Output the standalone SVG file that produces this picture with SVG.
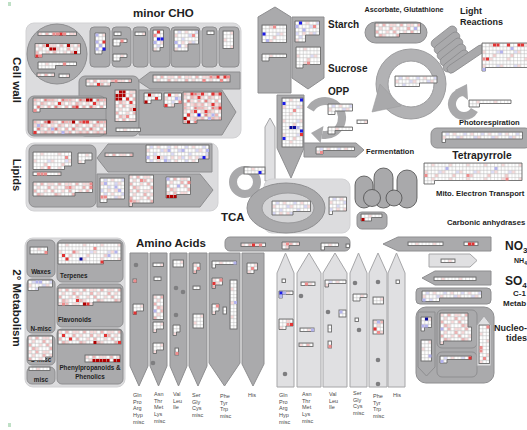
<svg xmlns="http://www.w3.org/2000/svg" width="527" height="430" viewBox="0 0 527 430">
<style>
text{font-family:"Liberation Sans",Arial,sans-serif;fill:#1e1e1e;font-weight:bold}
.aa{font-size:5.5px;fill:#4a4a4a;font-weight:normal}
.pl{fill:#dcdcde;stroke:#d2d2d4;stroke-width:1}
.dk{fill:#aaaaac;stroke:#8e8e90;stroke-width:1}
.lt{fill:#e0e0e2;stroke:#a6a6a8;stroke-width:1}
.cap{fill:#a9a9ab;stroke:#4c4c4c;stroke-width:.8}
.g{stroke:#6c6c6c;stroke-width:.9}
.dot{fill:#7e7e80}
.arc{fill:none;stroke:#a9a9ab;stroke-width:8}
.ah{fill:#a9a9ab}
.D{fill:#b00000}.R{fill:#e23434}.M{fill:#ee8c8c}.B{fill:#1c1ce8}.N{fill:#0a0a9a}.L{fill:#b4b4ee}
</style>
<defs>
<rect id="k" width="3" height="3"/>
<path id="gl" d="M.25 0V14M3.75 0V14M7.25 0V14M10.75 0V14M14.25 0V14M0 .25H17.5M0 3.75H17.5M0 7.25H17.5M0 10.75H17.5" stroke="#b4b4b4" stroke-width=".5" fill="none"/>
<pattern id="pw" width="17.5" height="14" patternUnits="userSpaceOnUse">
<rect width="17.5" height="14" fill="#fff"/>
<g fill="#f8d8d8"><use href="#k" x="7.5" y=".5"/><use href="#k" x=".5" y="7.5"/></g>
<use href="#k" x="14.5" y="7.5" fill="#dcdcf6"/><use href="#k" x="11" y="11" fill="#f4cccc"/>
<use href="#gl"/>
</pattern>
<pattern id="pp" width="17.5" height="14" patternUnits="userSpaceOnUse">
<rect width="17.5" height="14" fill="#fff"/>
<g fill="#f8d8d8"><use href="#k" x=".5" y=".5"/><use href="#k" x="14.5" y=".5"/><use href="#k" x="4" y="4"/><use href="#k" x="11" y="7.5"/><use href="#k" x="7.5" y="11"/></g>
<g fill="#f0b4b4"><use href="#k" x="7.5" y=".5"/><use href="#k" x="14.5" y="4"/><use href="#k" x=".5" y="7.5"/><use href="#k" x="4" y="11"/></g>
<use href="#gl"/>
</pattern>
<pattern id="pr" width="17.5" height="14" patternUnits="userSpaceOnUse">
<rect width="17.5" height="14" fill="#fff"/>
<g fill="#f8d8d8"><use href="#k" x="4" y=".5"/><use href="#k" x=".5" y="4"/><use href="#k" x="11" y="4"/><use href="#k" x="7.5" y="7.5"/><use href="#k" x="7.5" y="11"/><use href="#k" x="14.5" y="11"/></g>
<g fill="#f0b4b4"><use href="#k" x=".5" y=".5"/><use href="#k" x="14.5" y=".5"/><use href="#k" x="7.5" y="4"/><use href="#k" x="14.5" y="7.5"/><use href="#k" x=".5" y="11"/><use href="#k" x="11" y="11"/></g>
<g fill="#e87a7a"><use href="#k" x="11" y=".5"/><use href="#k" x="4" y="7.5"/></g>
<use href="#gl"/>
</pattern>
<pattern id="pb" width="17.5" height="14" patternUnits="userSpaceOnUse">
<rect width="17.5" height="14" fill="#fff"/>
<g fill="#d8d8f6"><use href="#k" x="4" y=".5"/><use href="#k" x="14.5" y="4"/><use href="#k" x="7.5" y="7.5"/><use href="#k" x=".5" y="11"/></g>
<g fill="#f8d8d8"><use href="#k" x="11" y=".5"/><use href="#k" x=".5" y="4"/><use href="#k" x="7.5" y="11"/><use href="#k" x="14.5" y="11"/></g>
<use href="#gl"/>
</pattern>
</defs>

<rect x="8" y="2" width="3" height="4" fill="#bfe0c6"/>
<rect x="8" y="423" width="3" height="4" fill="#bfe0c6"/>

<g id="cell-wall">
<rect class="pl" x="26" y="23" width="215" height="115" rx="8"/>
<circle class="dk" cx="57" cy="54" r="30"/>
<rect class="dk" x="79" y="76" width="60" height="60" rx="6"/>
<rect class="dk" x="28" y="96" width="78" height="40" rx="6"/>
<polygon class="dk" points="138,81 150,72 240,72 240,89 150,89"/>
<polygon class="dk" points="139,90 222,90 236,112 222,135 139,135"/>
<text transform="translate(13 80) rotate(90)" text-anchor="middle" font-size="11.5">Cell wall</text>
<g transform="translate(38 32)"><rect class="g" fill="url(#pp)" width="38.5" height="3.5"/><use href="#k" class="M" x="14.5" y=".5"/><use href="#k" class="M" x="18" y=".5"/><use href="#k" class="R" x="21.5" y=".5"/><use href="#k" class="M" x="25" y=".5"/></g>
<g transform="translate(35 43.5)"><path class="g" fill="url(#pp)" d="M0 0H45.5V10.5H7V14H0Z"/><use href="#k" class="D" x="11" y=".5"/><use href="#k" class="D" x="14.5" y="4"/><use href="#k" class="D" x="18" y="4"/><use href="#k" class="D" x="32" y=".5"/><use href="#k" class="D" x="39" y="7.5"/><use href="#k" class="R" x=".5" y="11"/><use href="#k" class="M" x="4" y="11"/></g>
<g transform="translate(38 62)"><path class="g" fill="url(#pw)" d="M0 0H38.5V3.5H17.5V7H0Z"/><use href="#k" class="M" x="25" y=".5"/></g>
<g transform="translate(37 73)"><rect class="g" fill="url(#pp)" width="17.5" height="3.5"/></g>
<g transform="translate(59 74)"><rect class="g" fill="url(#pw)" width="10.5" height="3.5"/></g>
<g transform="translate(86 79)"><path class="g" fill="url(#pp)" d="M0 0H45.5V3.5H24.5V7H0Z"/><use href="#k" class="R" x="11" y="4"/><use href="#k" class="M" x="28.5" y=".5"/></g>
<g transform="translate(115 90)"><rect class="g" fill="url(#pp)" width="21" height="31.5"/><use href="#k" class="D" x="4" y=".5"/><use href="#k" class="D" x="7.5" y=".5"/><use href="#k" class="D" x=".5" y="4"/><use href="#k" class="D" x="4" y="4"/><use href="#k" class="D" x="7.5" y="4"/><use href="#k" class="D" x=".5" y="7.5"/><use href="#k" class="D" x="4" y="7.5"/><use href="#k" class="R" x="11" y="7.5"/><use href="#k" class="D" x="18" y="18"/><use href="#k" class="R" x="14.5" y="11"/><use href="#k" class="M" x="11" y="25"/></g>
<g transform="translate(116 128)"><rect class="g" fill="url(#pw)" width="24.5" height="3.5"/></g>
<g transform="translate(33 98)"><path class="g" fill="url(#pr)" d="M0 0H73.5V10.5H7V14H0Z"/><use href="#k" class="D" x="53" y=".5"/><use href="#k" class="D" x="56.5" y=".5"/><use href="#k" class="R" x="60" y="4"/><use href="#k" class="R" x="42.5" y="7.5"/><use href="#k" class="R" x="25" y="4"/><use href="#k" class="M" x=".5" y="11"/></g>
<g transform="translate(33 120)"><rect class="g" fill="url(#pr)" width="73.5" height="14"/><use href="#k" class="D" x="14.5" y=".5"/><use href="#k" class="D" x="39" y=".5"/><use href="#k" class="R" x="49.5" y=".5"/><use href="#k" class="R" x="53" y=".5"/><use href="#k" class="L" x="4" y="4"/><use href="#k" class="L" x="28.5" y="11"/><use href="#k" class="R" x=".5" y="11"/><use href="#k" class="L" x="18" y="7.5"/></g>
<g transform="translate(153 75)"><rect class="g" fill="url(#pp)" width="77" height="7"/><use href="#k" class="M" x="56.5" y=".5"/><use href="#k" class="R" x="63.5" y=".5"/><use href="#k" class="M" x="67" y="4"/><use href="#k" class="R" x="70.5" y=".5"/><use href="#k" class="M" x="74" y=".5"/><use href="#k" class="M" x="49.5" y="4"/></g>
<g transform="translate(144 93)"><path class="g" fill="url(#pw)" d="M0 0H17.5V7H7V10.5H0Z"/><use href="#k" class="D" x="4" y=".5"/><use href="#k" class="D" x=".5" y="7.5"/><use href="#k" class="R" x="11" y="4"/></g>
<g transform="translate(164 93)"><path class="g" fill="url(#pb)" d="M0 0H17.5V10.5H10.5V14H0Z"/><use href="#k" class="R" x="4" y=".5"/><use href="#k" class="R" x=".5" y="11"/><use href="#k" class="L" x="11" y="4"/><use href="#k" class="M" x="14.5" y="7.5"/></g>
<g transform="translate(183 92)"><path class="g" fill="url(#pr)" d="M0 0H38.5V28H14V31.5H0Z"/><use href="#k" class="R" x="7.5" y=".5"/><use href="#k" class="R" x="18" y=".5"/><use href="#k" class="R" x="28.5" y=".5"/><use href="#k" class="R" x="35.5" y=".5"/><use href="#k" class="R" x="14.5" y="4"/><use href="#k" class="R" x="28.5" y="11"/><use href="#k" class="R" x="35.5" y="14.5"/><use href="#k" class="R" x="21.5" y="18"/><use href="#k" class="R" x="11" y="18"/><use href="#k" class="R" x="4" y="21.5"/><use href="#k" class="D" x=".5" y="25"/><use href="#k" class="D" x="4" y="28.5"/><use href="#k" class="B" x="14.5" y="21.5"/><use href="#k" class="L" x="28.5" y="21.5"/><use href="#k" class="L" x="25" y="25"/></g>
</g>

<g id="minor-cho">
<text x="133" y="17" font-size="11.5">minor CHO</text>
<rect class="dk" x="90" y="27" width="20" height="40" rx="4"/>
<rect class="dk" x="112" y="27" width="19" height="40" rx="4"/>
<rect class="dk" x="133" y="27" width="15" height="40" rx="4"/>
<rect class="dk" x="150" y="27" width="20" height="40" rx="4"/>
<rect class="dk" x="171" y="27" width="29" height="40" rx="4"/>
<rect class="dk" x="202" y="27" width="15" height="40" rx="4"/>
<rect class="dk" x="219" y="27" width="20" height="40" rx="4"/>
<g transform="translate(95 33)"><path class="g" fill="url(#pw)" d="M0 0H10.5V17.5H7V21H0Z"/><use href="#k" class="R" x="7.5" y="7.5"/><use href="#k" class="B" x="7.5" y="14.5"/><use href="#k" class="L" x=".5" y=".5"/><use href="#k" class="L" x=".5" y="7.5"/><use href="#k" class="L" x="4" y="11"/><use href="#k" class="L" x=".5" y="14.5"/></g>
<g transform="translate(114 32)"><rect class="g" fill="url(#pw)" width="7" height="3.5"/></g>
<g transform="translate(113 39)"><path class="g" fill="url(#pw)" d="M0 0H14V3.5H7V7H0Z"/><use href="#k" class="M" x="7.5" y=".5"/></g>
<g transform="translate(113 54)"><path class="g" fill="url(#pw)" d="M0 0H14V3.5H7V7H0Z"/></g>
<g transform="translate(135 32)"><rect class="g" fill="url(#pw)" width="10.5" height="3.5"/></g>
<g transform="translate(153 30)"><path class="g" fill="url(#pb)" d="M0 0H10.5V17.5H7V21H0Z"/><use href="#k" class="R" x="4" y=".5"/><use href="#k" class="B" x="4" y="7.5"/><use href="#k" class="B" x="7.5" y="7.5"/><use href="#k" class="L" x=".5" y="11"/><use href="#k" class="M" x=".5" y="4"/></g>
<g transform="translate(174 30)"><path class="g" fill="url(#pb)" d="M0 0H24.5V14H14V21H0Z"/><use href="#k" class="L" x="4" y="14.5"/><use href="#k" class="L" x=".5" y="11"/><use href="#k" class="M" x="18" y="4"/></g>
<g transform="translate(207 31)"><rect class="g" fill="url(#pw)" width="7" height="3.5"/></g>
<g transform="translate(223 31)"><rect class="g" fill="url(#pw)" width="10.5" height="17.5"/></g>
</g>

<g id="lipids">
<rect class="pl" x="26" y="143" width="192" height="68" rx="8"/>
<rect class="dk" x="29" y="145" width="67" height="62" rx="6"/>
<polygon class="dk" points="97,158 108,144 212,144 212,172 108,172"/>
<polygon class="dk" points="97,174 200,174 213,190 200,207 97,207"/>
<text transform="translate(13 175) rotate(90)" text-anchor="middle" font-size="11">Lipids</text>
<g transform="translate(33 152)"><path class="g" fill="url(#pw)" d="M0 0H38.5V14H31.5V17.5H0Z"/><use href="#k" class="M" x="14.5" y="14"/><use href="#k" class="M" x="32" y="4"/></g>
<g transform="translate(78 153)"><path class="g" fill="url(#pw)" d="M0 0H14V7H7V10.5H0Z"/></g>
<g transform="translate(33 172)"><rect class="g" fill="url(#pw)" width="28" height="3.5"/><use href="#k" class="M" x="4" y=".5"/><use href="#k" class="M" x="7.5" y=".5"/><use href="#k" class="M" x="11" y=".5"/></g>
<g transform="translate(33 182)"><path class="g" fill="url(#pp)" d="M0 0H59.5V10.5H42V14H0Z"/><use href="#k" class="M" x="56.5" y=".5"/><use href="#k" class="M" x="56.5" y="4"/><use href="#k" class="M" x="35.5" y="4"/></g>
<g transform="translate(105 153)"><rect class="g" fill="url(#pp)" width="28" height="3.5"/></g>
<g transform="translate(146 145)"><path class="g" fill="url(#pb)" d="M0 0H63V14H52.5V17.5H0Z"/><use href="#k" class="D" x="11" y="11"/><use href="#k" class="B" x="56.5" y="11"/><use href="#k" class="L" x=".5" y="11"/><use href="#k" class="L" x="35.5" y="4"/><use href="#k" class="L" x="60" y="4"/><use href="#k" class="L" x="18" y="14"/><use href="#k" class="L" x="21.5" y="4"/></g>
<g transform="translate(100 178)"><path class="g" fill="url(#pb)" d="M0 0H24.5V21H7V24.5H0Z"/><use href="#k" class="L" x="4" y="4"/><use href="#k" class="L" x="14.5" y="7.5"/><use href="#k" class="L" x="18" y="11"/><use href="#k" class="M" x=".5" y="17.5"/><use href="#k" class="M" x="4" y="17.5"/></g>
<g transform="translate(129 175)"><path class="g" fill="url(#pp)" d="M0 0H24.5V28H3.5V31.5H0Z"/><use href="#k" class="M" x=".5" y="24.5"/><use href="#k" class="M" x="11" y="4"/></g>
<g transform="translate(166 177)"><path class="g" fill="url(#pp)" d="M0 0H24.5V17.5H10.5V21H0Z"/><use href="#k" class="D" x=".5" y="18"/><use href="#k" class="D" x="4" y="18"/><use href="#k" class="D" x="7.5" y="18"/><use href="#k" class="L" x=".5" y=".5"/><use href="#k" class="M" x="21.5" y="4"/><use href="#k" class="L" x="11" y="7.5"/></g>
</g>

<g id="starch-sucrose">
<polygon class="dk" points="258,17 275,7 291,17 291,93 258,93"/>
<polygon class="dk" points="292,17 324,17 324,78 308,89 292,78"/>
<g transform="translate(262 25)"><rect class="g" fill="url(#pw)" width="24.5" height="17.5"/><use href="#k" class="B" x=".5" y="7.5"/><use href="#k" class="M" x="11" y=".5"/><use href="#k" class="L" x="4" y="14"/></g>
<g transform="translate(262 54)"><path class="g" fill="url(#pw)" d="M0 0H24.5V3.5H7V7H0Z"/></g>
<g transform="translate(295 21)"><path class="g" fill="url(#pb)" d="M0 0H24.5V14H10.5V21H0Z"/><use href="#k" class="B" x="4" y=".5"/><use href="#k" class="L" x=".5" y="4"/><use href="#k" class="L" x="7.5" y="7.5"/><use href="#k" class="M" x="18" y="4"/></g>
<g transform="translate(296 47)"><path class="g" fill="url(#pw)" d="M0 0H24.5V17.5H7V21H0Z"/><use href="#k" class="M" x="11" y="14.5"/></g>
<text x="328" y="28" font-size="10">Starch</text>
<text x="328" y="72" font-size="10">Sucrose</text>
</g>

<g id="connectors">
<path class="arc" d="M310.3 109.5A17 17 0 1 1 322 134.7"/>
<polygon class="ah" points="323.5,126 320.6,143 311,133"/>
<circle cx="411" cy="84" r="35" fill="#b2b2b4" stroke="#9c9c9e"/>
<circle cx="411" cy="84" r="23" fill="#fff" stroke="#9c9c9e"/>
<polygon class="ah" points="380,84 401,106 372,112" stroke="#9c9c9e" stroke-width=".6"/>
<path class="arc" stroke-width="7" d="M464 92A12 12 0 1 0 474.4 110"/>
<polygon class="ah" points="467,84 468,100 455,90"/>
<circle cx="245" cy="182" r="12" fill="none" stroke="#a9a9ab" stroke-width="8"/>
</g>

<g id="opp">
<text x="328" y="95" font-size="10">OPP</text>
<polygon class="dk" points="277,95 304,95 304,148 291,178 277,148"/>
<g transform="translate(282 98)"><rect class="g" fill="url(#pw)" width="21" height="49"/><use href="#k" class="B" x=".5" y="4"/><use href="#k" class="B" x="18" y=".5"/><use href="#k" class="N" x="7.5" y="28"/><use href="#k" class="N" x="11" y="28"/><use href="#k" class="B" x="18" y="31.5"/><use href="#k" class="B" x=".5" y="39"/><use href="#k" class="R" x="18" y="35"/><use href="#k" class="L" x="14.5" y="28"/><use href="#k" class="M" x="11" y="11"/></g>
<g transform="translate(328 104)"><path class="g" fill="url(#pb)" d="M0 0H24.5V7H7V10.5H0Z"/></g>
<g transform="translate(328 127)"><path class="g" fill="url(#pw)" d="M0 0H24.5V3.5H7V7H0Z"/></g>
<g transform="translate(357 120)"><rect class="g" fill="url(#pw)" width="10.5" height="3.5"/></g>
</g>

<g id="fermentation">
<polygon class="dk" points="304,143 356,143 364,150 356,157 304,157"/>
<g transform="translate(316 147)"><path class="g" fill="url(#pb)" d="M0 0H38.5V3.5H7V7H0Z"/><use href="#k" class="M" x="4" y="4"/></g>
<text x="366" y="153.5" font-size="7.6">Fermentation</text>
</g>

<g id="tca">
<polygon class="lt" points="265,127 270,118 275,127 275,181 265,181"/>
<rect class="pl" x="264" y="179" width="86" height="54" rx="8" stroke="#c4c4c6"/>
<ellipse class="dk" cx="286" cy="208" rx="39" ry="25"/>
<ellipse cx="288" cy="208" rx="26" ry="15" fill="#d4d4d6" stroke="#9a9a9c"/>
<g transform="translate(272 201)"><path class="g" fill="url(#pb)" d="M0 0H38.5V10.5H21V14H0Z"/></g>
<g transform="translate(329 197)"><path class="g" fill="url(#pb)" d="M0 0H17.5V14H3.5V17.5H0Z"/></g>
<g transform="translate(244 167)"><rect class="g" fill="url(#pw)" width="21" height="7"/><use href="#k" class="B" x="14.5" y="4"/></g>
<text x="221" y="220.5" font-size="11.5">TCA</text>
</g>

<g id="mito">
<rect class="cap" x="355" y="176" width="18" height="32" rx="9"/>
<rect class="cap" x="374" y="168" width="19" height="40" rx="9.5"/>
<rect class="cap" x="397" y="170" width="20" height="38" rx="10"/>
<circle class="cap" cx="372" cy="198" r="8.5"/>
<circle class="cap" cx="394" cy="198" r="8"/>
<rect class="dk" x="357" y="212" width="30" height="17" rx="5"/>
<g transform="translate(361 214)"><path class="g" fill="url(#pw)" d="M0 0H21V3.5H10.5V7H0Z"/><use href="#k" class="D" x=".5" y="4"/></g>
</g>

<g id="ascorbate">
<text x="404" y="12" font-size="7.2" text-anchor="middle">Ascorbate, Glutathione</text>
<rect class="dk" x="365" y="22" width="62" height="21" rx="10.5"/>
<g transform="translate(375 23)"><path class="g" fill="url(#pp)" d="M0 0H45.5V10.5H24.5V14H0Z"/><use href="#k" class="L" x="39" y="4"/></g>
</g>

<g id="light-reactions">
<text x="460" y="14" font-size="9">Light</text>
<text x="460" y="25" font-size="9">Reactions</text>
<g fill="#a9a9ab" stroke="#8c8c8e" stroke-width=".8">
<rect x="-15" y="-4.5" width="30" height="9" rx="4.5" transform="translate(444 37) rotate(-38)"/>
<rect x="-15" y="-4.5" width="30" height="9" rx="4.5" transform="translate(447 43) rotate(-38)"/>
<rect x="-15" y="-4.5" width="30" height="9" rx="4.5" transform="translate(450 49) rotate(-38)"/>
<rect x="-15" y="-4.5" width="30" height="9" rx="4.5" transform="translate(453 55) rotate(-38)"/>
<rect x="-15" y="-4.5" width="30" height="9" rx="4.5" transform="translate(456 61) rotate(-38)"/>
<rect x="-22" y="-4" width="44" height="8" rx="4" transform="translate(466 59) rotate(-34)"/>
</g>
<g transform="translate(482 43)"><path class="g" fill="url(#pw)" d="M0 0H45.5V24.5H3.5V28H0Z"/><use href="#k" class="R" x="11" y=".5"/><use href="#k" class="R" x="14.5" y=".5"/><use href="#k" class="R" x="25" y=".5"/><use href="#k" class="R" x="35.5" y=".5"/><use href="#k" class="R" x="39" y=".5"/><use href="#k" class="M" x=".5" y="14.5"/><use href="#k" class="R" x="4" y="14.5"/><use href="#k" class="L" x=".5" y="25"/><use href="#k" class="L" x="28.5" y="4"/><use href="#k" class="L" x="18" y="7.5"/></g>
</g>

<g id="calvin">
<g transform="translate(395 76)"><path class="g" fill="url(#pb)" d="M0 0H42V7H24.5V10.5H0Z"/></g>
</g>

<g id="photorespiration">
<g transform="translate(469 100)"><path class="g" fill="url(#pw)" d="M0 0H42V3.5H10.5V7H0Z"/></g>
<text x="459" y="125" font-size="7.6">Photorespiration</text>
</g>

<g id="tetrapyrrole">
<rect class="dk" x="431" y="128" width="100" height="20" rx="6"/>
<g transform="translate(442 132)"><path class="g" fill="url(#pb)" d="M0 0H80.5V7H3.5V10.5H0Z"/></g>
<text x="482" y="159" font-size="10.3" text-anchor="middle">Tetrapyrrole</text>
</g>

<g id="mito-et">
<g transform="translate(424 163)"><path class="g" fill="url(#pw)" d="M0 0H98V17.5H10.5V21H0Z"/><use href="#k" class="M" x=".5" y="11"/><use href="#k" class="M" x="42.5" y="11"/><use href="#k" class="M" x="81.5" y="14.5"/><use href="#k" class="L" x="21.5" y="4"/><use href="#k" class="L" x="70.5" y="4"/></g>
<text x="436" y="196" font-size="7.7">Mito. Electron Transport</text>
</g>

<text id="carbonic" x="447" y="225" font-size="7.7">Carbonic anhydrases</text>

<g id="aa-band">
<rect class="dk" x="225" y="237" width="125" height="14" rx="5"/>
<g transform="translate(241 243)"><rect class="g" fill="url(#pp)" width="24.5" height="3.5"/><use href="#k" class="R" x="11" y=".5"/><use href="#k" class="M" x="18" y=".5"/></g>
<g transform="translate(282 242)"><path class="g" fill="url(#pp)" d="M0 0H17.5V3.5H7V7H0Z"/><use href="#k" class="M" x="4" y=".5"/></g>
<g transform="translate(321 243)"><path class="g" fill="url(#pw)" d="M0 0H17.5V3.5H3.5V7H0Z"/></g>
<g transform="translate(346 244)"><rect class="g" fill="url(#pw)" width="3.5" height="3.5"/></g>
</g>

<g id="no3">
<polygon class="dk" points="383,244 398,237 491,237 491,251 398,251"/>
<g transform="translate(408 242)"><rect class="g" fill="url(#pw)" width="35" height="3.5"/></g>
<g transform="translate(464 242)"><rect class="g" fill="url(#pw)" width="14" height="3.5"/><use href="#k" class="R" x="4" y=".5"/><use href="#k" class="R" x="7.5" y=".5"/></g>
<text x="505" y="250" font-size="12">NO<tspan font-size="8" dy="3">3</tspan></text>
</g>
<g id="nh4">
<polygon class="lt" points="429,254 470,254 477,260.5 470,267 429,267"/>
<g transform="translate(441 259)"><rect class="g" fill="url(#pw)" width="14" height="3.5"/></g>
<text x="514" y="263" font-size="7">NH<tspan font-size="5" dy="2">4</tspan></text>
</g>
<g id="so4">
<polygon class="dk" points="422,278 435,271 491,271 491,285 435,285"/>
<g transform="translate(434 277)"><rect class="g" fill="url(#pw)" width="42" height="3.5"/></g>
<text x="505" y="285" font-size="12">SO<tspan font-size="8" dy="3">4</tspan></text>
</g>
<g id="c1">
<rect class="dk" x="416" y="288" width="75" height="16" rx="4"/>
<g transform="translate(422 291)"><path class="g" fill="url(#pb)" d="M0 0H59.5V7H17.5V10.5H0Z"/><use href="#k" class="L" x=".5" y="7.5"/></g>
<text x="513" y="295.5" font-size="8">C-1</text>
<text x="503" y="306" font-size="8">Metab</text>
</g>

<g id="nucleotides">
<rect class="dk" x="416" y="307" width="78" height="76" rx="10"/>
<polygon class="dk" points="418,312 435,312 435,367 426.5,376 418,367"/>
<rect class="dk" x="437" y="310" width="40" height="38" rx="5"/>
<rect class="dk" x="437" y="352" width="40" height="25" rx="5"/>
<polygon class="lt" points="477,325 484,316 491,325 491,366 477,366"/>
<g transform="translate(421 317)"><path class="g" fill="url(#pw)" d="M0 0H10.5V10.5H3.5V14H0Z"/><use href="#k" class="N" x="4" y=".5"/><use href="#k" class="L" x=".5" y="7.5"/><use href="#k" class="L" x="4" y="7.5"/></g>
<g transform="translate(421 340)"><rect class="g" fill="url(#pw)" width="10.5" height="21"/><use href="#k" class="L" x="7.5" y="14.5"/></g>
<g transform="translate(440 313)"><path class="g" fill="url(#pp)" d="M0 0H28V14H31.5V28H3.5V31.5H0Z"/><use href="#k" class="L" x=".5" y="14.5"/></g>
<g transform="translate(440 356)"><path class="g" fill="url(#pb)" d="M0 0H31.5V3.5H7V7H0Z"/><use href="#k" class="R" x="28.5" y=".5"/><use href="#k" class="L" x=".5" y="4"/></g>
<g transform="translate(479 325)"><rect class="g" fill="url(#pw)" width="10.5" height="38.5"/><use href="#k" class="M" x="7.5" y=".5"/><use href="#k" class="M" x=".5" y="21"/><use href="#k" class="M" x=".5" y="24.5"/><use href="#k" class="M" x="4" y="32"/></g>
<text x="527" y="331" font-size="9" text-anchor="end">Nucleo-</text>
<text x="527" y="341" font-size="9" text-anchor="end">tides</text>
</g>

<g id="amino-acids">
<text x="136" y="247" font-size="11.5">Amino Acids</text>
<polygon class="dk" points="130,253 148,253 148,366 139,386 130,366"/>
<polygon class="dk" points="150,253 167,253 167,366 158.5,386 150,366"/>
<polygon class="dk" points="170,253 187,253 187,366 178.5,386 170,366"/>
<polygon class="dk" points="189,253 207,253 207,366 198,386 189,366"/>
<polygon class="dk" points="209,253 240,253 240,363 224.5,386 209,363"/>
<polygon class="dk" points="242,253 264,253 264,364 253,386 242,364"/>
<polygon class="lt" points="277,273 285.5,253 294,273 294,387 277,387"/>
<polygon class="lt" points="297,273 309,253 321,273 321,387 297,387"/>
<polygon class="lt" points="323,273 335,253 347,273 347,387 323,387"/>
<polygon class="lt" points="350,273 358.5,253 367,273 367,387 350,387"/>
<polygon class="lt" points="369,273 378,253 387,273 387,387 369,387"/>
<polygon class="lt" points="388,273 396.5,253 405,273 405,387 388,387"/>
<g class="dot">
<circle cx="136" cy="265" r="2.3"/><circle cx="153" cy="363" r="2.3"/><circle cx="176" cy="288" r="2.3"/><circle cx="183" cy="292" r="2.3"/><circle cx="176" cy="315" r="2.3"/>
<circle cx="285" cy="374" r="2.3"/><circle cx="301" cy="296" r="2.3"/><circle cx="328" cy="312" r="2.3"/><circle cx="355" cy="283" r="2.3"/><circle cx="359" cy="330" r="2.3"/><circle cx="378" cy="282" r="2.3"/><circle cx="378" cy="360" r="2.3"/><circle cx="378" cy="384" r="2.3"/>
</g>
<g transform="translate(133 279)"><rect class="g" fill="url(#pw)" width="3.5" height="3.5"/><use href="#k" class="M" x=".5" y=".5"/></g>
<g transform="translate(133 304)"><path class="g" fill="url(#pw)" d="M0 0H10.5V7H3.5V10.5H0Z"/><use href="#k" class="R" x=".5" y="7.5"/></g>
<g transform="translate(153 263)"><rect class="g" fill="url(#pw)" width="10.5" height="3.5"/></g>
<g transform="translate(154 277)"><rect class="g" fill="url(#pw)" width="7" height="3.5"/></g>
<g transform="translate(153 295)"><rect class="g" fill="url(#pp)" width="10.5" height="24.5"/><use href="#k" class="L" x=".5" y="14.5"/></g>
<g transform="translate(153 322)"><path class="g" fill="url(#pw)" d="M0 0H10.5V7H3.5V10.5H0Z"/></g>
<g transform="translate(153 343)"><path class="g" fill="url(#pw)" d="M0 0H10.5V7H3.5V10.5H0Z"/></g>
<g transform="translate(173 260)"><rect class="g" fill="url(#pw)" width="10.5" height="7"/></g>
<g transform="translate(173 325)"><path class="g" fill="url(#pw)" d="M0 0H7V7H3.5V10.5H0Z"/></g>
<g transform="translate(175 348)"><rect class="g" fill="url(#pw)" width="3.5" height="7"/><use href="#k" class="M" x=".5" y="4"/></g>
<g transform="translate(193 263)"><path class="g" fill="url(#pp)" d="M0 0H7V7H3.5V10.5H0Z"/><use href="#k" class="M" x="4" y="4"/></g>
<g transform="translate(193 286)"><rect class="g" fill="url(#pw)" width="7" height="3.5"/></g>
<g transform="translate(193 314)"><rect class="g" fill="url(#pw)" width="10.5" height="14"/></g>
<g transform="translate(212 261)"><path class="g" fill="url(#pw)" d="M0 0H24.5V3.5H3.5V7H0Z"/><use href="#k" class="L" x="21.5" y=".5"/></g>
<g transform="translate(212 278)"><path class="g" fill="url(#pp)" d="M0 0H10.5V7H3.5V10.5H0Z"/><use href="#k" class="R" x=".5" y="4"/><use href="#k" class="M" x="7.5" y=".5"/></g>
<g transform="translate(212 304)"><path class="g" fill="url(#pw)" d="M0 0H7V7H3.5V10.5H0Z"/><use href="#k" class="M" x="4" y=".5"/></g>
<g transform="translate(223 307)"><rect class="g" fill="url(#pw)" width="3.5" height="7"/></g>
<g transform="translate(230 280)"><rect class="g" fill="url(#pw)" width="7" height="49"/><use href="#k" class="L" x="4" y="21"/></g>
<g transform="translate(247 263)"><path class="g" fill="url(#pw)" d="M0 0H10.5V7H7V10.5H0Z"/><use href="#k" class="M" x="4" y="4"/></g>
<g transform="translate(282 279)"><rect class="g" fill="url(#pw)" width="3.5" height="3.5"/></g>
<g transform="translate(279 291)"><path class="g" fill="url(#pw)" d="M0 0H14V3.5H3.5V7H0Z"/><use href="#k" class="B" x=".5" y=".5"/><use href="#k" class="L" x="4" y=".5"/><use href="#k" class="L" x=".5" y="4"/></g>
<g transform="translate(279 319)"><path class="g" fill="url(#pw)" d="M0 0H14V7H7V10.5H0Z"/><use href="#k" class="M" x="7.5" y="4"/><use href="#k" class="R" x="11" y="4"/></g>
<g transform="translate(301 282)"><rect class="g" fill="url(#pw)" width="14" height="3.5"/><use href="#k" class="M" x="4" y=".5"/></g>
<g transform="translate(300 328)"><rect class="g" fill="url(#pw)" width="14" height="3.5"/><use href="#k" class="L" x="11" y=".5"/></g>
<g transform="translate(299 343)"><rect class="g" fill="url(#pp)" width="14" height="3.5"/></g>
<g transform="translate(325 280)"><path class="g" fill="url(#pb)" d="M0 0H21V3.5H3.5V7H0Z"/></g>
<g transform="translate(339 310)"><rect class="g" fill="url(#pw)" width="7" height="7"/><use href="#k" class="L" x=".5" y=".5"/></g>
<g transform="translate(328 325)"><rect class="g" fill="url(#pw)" width="3.5" height="7"/></g>
<g transform="translate(328 341)"><rect class="g" fill="url(#pw)" width="3.5" height="7"/><use href="#k" class="M" x=".5" y="4"/></g>
<g transform="translate(353 294)"><path class="g" fill="url(#pw)" d="M0 0H14V3.5H7V7H0Z"/></g>
<g transform="translate(355 318)"><rect class="g" fill="url(#pw)" width="3.5" height="3.5"/></g>
<g transform="translate(373 297)"><rect class="g" fill="url(#pw)" width="10.5" height="7"/></g>
<g transform="translate(373 320)"><rect class="g" fill="url(#pp)" width="10.5" height="14"/><use href="#k" class="L" x="4" y=".5"/><use href="#k" class="R" x=".5" y="7.5"/><use href="#k" class="M" x="4" y="11"/></g>
<g transform="translate(396 280)"><rect class="g" fill="url(#pw)" width="3.5" height="3.5"/></g>
<text class="aa" x="133" y="397">Gln<tspan x="133" dy="6.7">Pro</tspan><tspan x="133" dy="6.7">Arg</tspan><tspan x="133" dy="6.7">Hyp</tspan><tspan x="133" dy="6.7">misc</tspan></text>
<text class="aa" x="154" y="396">Asn<tspan x="154" dy="6.7">Thr</tspan><tspan x="154" dy="6.7">Met</tspan><tspan x="154" dy="6.7">Lys</tspan><tspan x="154" dy="6.7">misc</tspan></text>
<text class="aa" x="173" y="396">Val<tspan x="173" dy="6.7">Leu</tspan><tspan x="173" dy="6.7">Ile</tspan></text>
<text class="aa" x="192" y="397">Ser<tspan x="192" dy="6.7">Gly</tspan><tspan x="192" dy="6.7">Cys</tspan><tspan x="192" dy="6.7">misc</tspan></text>
<text class="aa" x="220" y="398">Phe<tspan x="220" dy="6.7">Tyr</tspan><tspan x="220" dy="6.7">Trp</tspan><tspan x="220" dy="6.7">misc</tspan></text>
<text class="aa" x="248" y="397">His</text>
<text class="aa" x="279" y="397">Gln<tspan x="279" dy="6.7">Pro</tspan><tspan x="279" dy="6.7">Arg</tspan><tspan x="279" dy="6.7">Hyp</tspan><tspan x="279" dy="6.7">misc</tspan></text>
<text class="aa" x="302" y="396">Asn<tspan x="302" dy="6.7">Thr</tspan><tspan x="302" dy="6.7">Met</tspan><tspan x="302" dy="6.7">Lys</tspan><tspan x="302" dy="6.7">misc</tspan></text>
<text class="aa" x="329" y="396">Val<tspan x="329" dy="6.7">Leu</tspan><tspan x="329" dy="6.7">Ile</tspan></text>
<text class="aa" x="353" y="395">Ser<tspan x="353" dy="6.7">Gly</tspan><tspan x="353" dy="6.7">Cys</tspan><tspan x="353" dy="6.7">misc</tspan></text>
<text class="aa" x="373" y="398">Phe<tspan x="373" dy="6.7">Tyr</tspan><tspan x="373" dy="6.7">Trp</tspan><tspan x="373" dy="6.7">misc</tspan></text>
<text class="aa" x="393" y="397">His</text>
</g>

<g id="secondary">
<rect class="pl" x="25" y="238" width="100" height="149" rx="8"/>
<text transform="translate(12.5 308) rotate(90)" text-anchor="middle" font-size="11.5">2° Metabolism</text>
<rect class="dk" x="27" y="240" width="28" height="37" rx="5"/>
<rect class="dk" x="57" y="240" width="66" height="42" rx="5"/>
<rect class="dk" x="27" y="279" width="28" height="54" rx="5"/>
<rect class="dk" x="57" y="284" width="66" height="43" rx="5"/>
<rect class="dk" x="27" y="335" width="28" height="30" rx="5"/>
<rect class="dk" x="27" y="367" width="28" height="17" rx="5"/>
<rect class="dk" x="57" y="329" width="66" height="55" rx="5"/>
<g transform="translate(30 247)"><rect class="g" fill="url(#pw)" width="17.5" height="7"/><use href="#k" class="M" x="14.5" y="4"/></g>
<g transform="translate(58 243)"><path class="g" fill="url(#pw)" d="M0 0H63V17.5H45.5V21H0Z"/><use href="#k" class="R" x="4" y="11"/><use href="#k" class="R" x="7.5" y="14.5"/><use href="#k" class="N" x="21.5" y="14.5"/><use href="#k" class="R" x="42.5" y="17.5"/><use href="#k" class="L" x="49.5" y="11"/><use href="#k" class="L" x="56.5" y="7.5"/><use href="#k" class="M" x="14.5" y="7.5"/><use href="#k" class="M" x="35.5" y="4"/></g>
<text x="41" y="274" font-size="6.3" text-anchor="middle">Waxes</text>
<text x="60" y="278" font-size="6.3">Terpenes</text>
<g transform="translate(28 280)"><path class="g" fill="url(#pb)" d="M0 0H24.5V7H10.5V10.5H0Z"/><use href="#k" class="L" x="7.5" y=".5"/><use href="#k" class="L" x="11" y=".5"/></g>
<text x="41" y="331" font-size="6.3" text-anchor="middle">N-misc</text>
<g transform="translate(58 288)"><path class="g" fill="url(#pp)" d="M0 0H63V14H35V17.5H0Z"/><use href="#k" class="R" x="18" y="11"/><use href="#k" class="D" x="25" y="14.5"/><use href="#k" class="R" x="28.5" y="14.5"/><use href="#k" class="M" x="4" y="14.5"/></g>
<text x="58" y="322" font-size="6.3">Flavonoids</text>
<text x="41" y="362" font-size="6.3" text-anchor="middle">S-misc</text>
<g transform="translate(28 336)"><path class="g" fill="url(#pp)" d="M0 0H24.5V21H17.5V24.5H0Z"/></g>
<g transform="translate(29 367)"><rect class="g" fill="url(#pw)" width="21" height="3.5"/></g>
<text x="41" y="382" font-size="6.3" text-anchor="middle">misc</text>
<g transform="translate(58 330)"><rect class="g" fill="url(#pp)" width="63" height="14"/><use href="#k" class="R" x="4" y="4"/><use href="#k" class="R" x="11" y="7.5"/><use href="#k" class="R" x="60" y="11"/><use href="#k" class="R" x="46" y="4"/><use href="#k" class="D" x="35.5" y="11"/></g>
<g transform="translate(85 355)"><rect class="g" fill="url(#pp)" width="35" height="7"/><use href="#k" class="D" x="7.5" y="4"/><use href="#k" class="D" x="11" y="4"/><use href="#k" class="D" x="14.5" y="4"/><use href="#k" class="D" x="18" y="4"/><use href="#k" class="D" x="21.5" y="4"/><use href="#k" class="D" x="28.5" y="4"/><use href="#k" class="D" x="32" y="4"/></g>
<text x="90" y="370" font-size="6.3" text-anchor="middle">Phenylpropanoids &amp;</text>
<text x="90" y="379" font-size="6.3" text-anchor="middle">Phenolics</text>
</g>
</svg>
